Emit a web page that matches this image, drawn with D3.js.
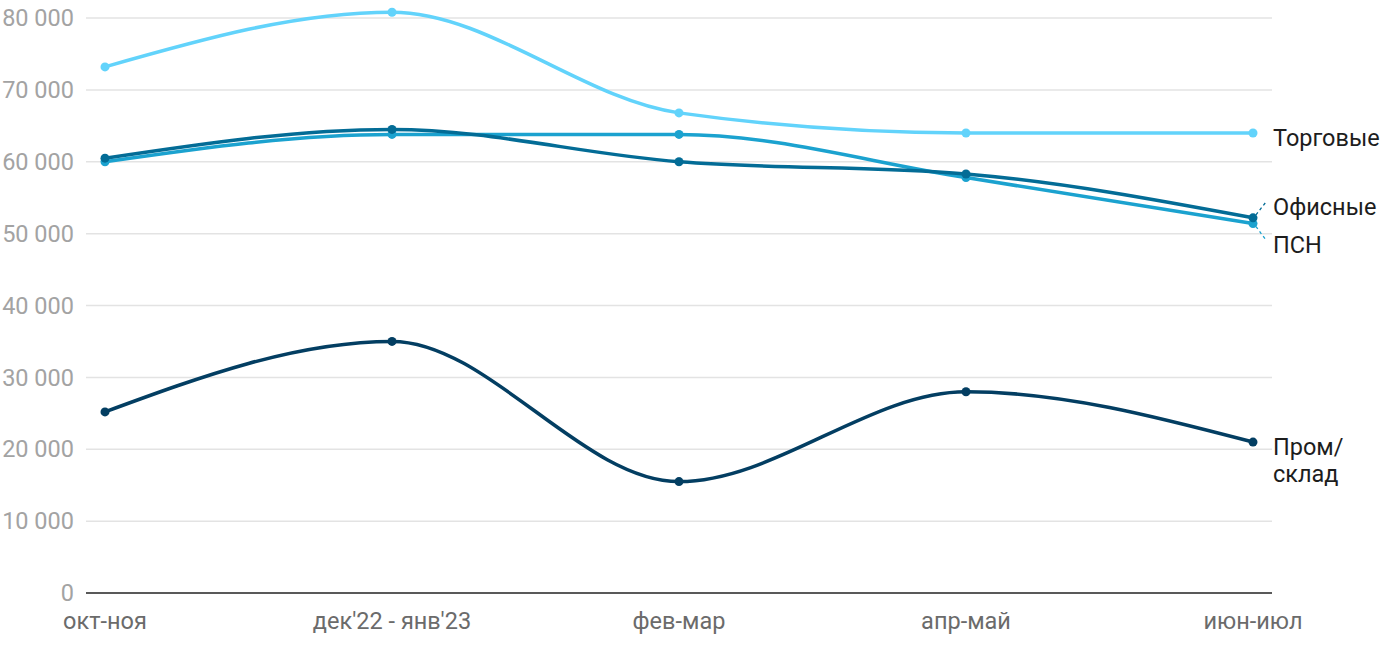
<!DOCTYPE html>
<html><head><meta charset="utf-8">
<script src="https://cdn.jsdelivr.net/npm/d3@7"></script>
<style>
body{margin:0;background:#fff;}
svg{font-family:Roboto,"Noto Sans",sans-serif;}
</style></head>
<body><svg id="c" width="1400" height="650"></svg>
<script>
const categories = ["окт-ноя","дек'22 - янв'23","фев-мар","апр-май","июн-июл"];
const torgovye = [73200, 80800, 66800, 64000, 64000];
const ofisnye  = [60500, 64500, 60000, 58300, 52200];
const psn      = [60000, 63800, 63800, 57800, 51400];
const prom     = [25200, 35000, 15500, 28000, 21000];
const yTicks = [0,10000,20000,30000,40000,50000,60000,70000,80000];
const seriesNames = ["Торговые","Офисные","ПСН","Пром/склад"];

const series = [
  {name:"Торговые", values:torgovye, color:"#62d3fb"},
  {name:"ПСН", values:psn, color:"#1ba2cf"},
  {name:"Офисные", values:ofisnye, color:"#036c96"},
  {name:"Пром/склад", values:prom, color:"#033e62"}
];

const svg = d3.select("#c");
const x = d3.scalePoint().domain(categories).range([105,1253]);
const y = d3.scaleLinear().domain([0,80000]).range([593,18]);
const fmt = v => d3.format(",")(v).replace(/,/g," ");

// grid
svg.append("g").selectAll("line").data(yTicks.filter(d=>d>0)).join("line")
  .attr("x1",86).attr("x2",1272).attr("y1",d=>y(d)).attr("y2",d=>y(d))
  .attr("stroke","#e3e3e3").attr("stroke-width",1.5);
svg.append("g").selectAll("text").data(yTicks).join("text")
  .attr("x",74).attr("y",d=>y(d)).attr("dy","0.35em").attr("text-anchor","end")
  .attr("fill","#a3a3a3").attr("font-size",23.5).text(fmt);
svg.append("line").attr("x1",86).attr("x2",1272).attr("y1",y(0)).attr("y2",y(0))
  .attr("stroke","#222").attr("stroke-width",1.5);
svg.append("g").selectAll("text").data(categories).join("text")
  .attr("x",d=>x(d)).attr("y",621).attr("dy","0.35em").attr("text-anchor","middle")
  .attr("fill","#6b6b6b").attr("font-size",23.5).text(d=>d);

const line = d3.line().x((d,i)=>x(categories[i])).y(d=>y(d)).curve(d3.curveMonotoneX);
series.forEach(s=>{
  svg.append("path").attr("d",line(s.values)).attr("fill","none")
    .attr("stroke",s.color).attr("stroke-width",3.5).attr("stroke-linecap","round");
  svg.append("g").selectAll("circle").data(s.values).join("circle")
    .attr("cx",(d,i)=>x(categories[i])).attr("cy",d=>y(d)).attr("r",4.5).attr("fill",s.color);
});

// labels
const last = categories.length-1;
const lx = 1273;
function lab(text, yy){
  svg.append("text").attr("x",lx).attr("y",yy).attr("dy","0.35em")
    .attr("fill","#1d1d1d").attr("font-size",23.5).text(text);
}
lab(seriesNames[0], 137.5);
lab(seriesNames[1], 206.5);
lab(seriesNames[2], 244.5);
lab("Пром/", 446.5);
lab("склад", 473.5);
// leader lines
svg.append("line").attr("x1",x(categories[last])+3).attr("y1",y(ofisnye[last])-3)
  .attr("x2",1266).attr("y2",202).attr("stroke","#036c96").attr("stroke-width",1.3).attr("stroke-dasharray","3,3");
svg.append("line").attr("x1",x(categories[last])+3).attr("y1",y(psn[last])+3)
  .attr("x2",1266).attr("y2",240).attr("stroke","#1ba2cf").attr("stroke-width",1.3).attr("stroke-dasharray","3,3");
</script></body></html>
